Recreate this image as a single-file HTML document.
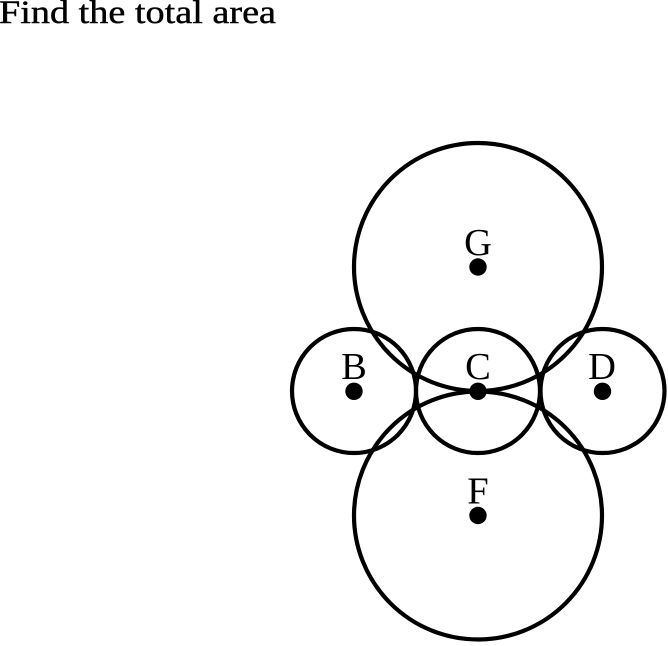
<!DOCTYPE html>
<html>
<head>
<meta charset="utf-8">
<style>
html,body{margin:0;padding:0;background:#fff;width:668px;height:646px;overflow:hidden}
svg{display:block}
text{font-family:"Liberation Serif",serif;fill:#000}
</style>
</head>
<body>
<svg width="668" height="646" viewBox="0 0 668 646" xmlns="http://www.w3.org/2000/svg">
<text x="-1" y="23" font-size="33" textLength="277" lengthAdjust="spacingAndGlyphs" stroke="#000" stroke-width="0.4">Find the total area</text>
<g fill="none" stroke="#000" stroke-width="4.200">
<circle cx="478" cy="267" r="124"/>
<circle cx="478" cy="515.500" r="124"/>
<circle cx="354" cy="391" r="62"/>
<circle cx="478" cy="391" r="62"/>
<circle cx="602.500" cy="391" r="62"/>
</g>
<g fill="#000">
<circle cx="478" cy="267" r="8.700"/>
<circle cx="478" cy="515.500" r="8.700"/>
<circle cx="354" cy="391.300" r="8.700"/>
<circle cx="478" cy="391.300" r="8.700"/>
<circle cx="602.500" cy="391.300" r="8.700"/>
</g>
<g font-size="38.500" text-anchor="middle">
<text x="478" y="255">G</text>
<text x="478" y="503.500">F</text>
<text x="354" y="379">B</text>
<text x="478" y="379">C</text>
<text x="602" y="379">D</text>
</g>
</svg>
</body>
</html>
